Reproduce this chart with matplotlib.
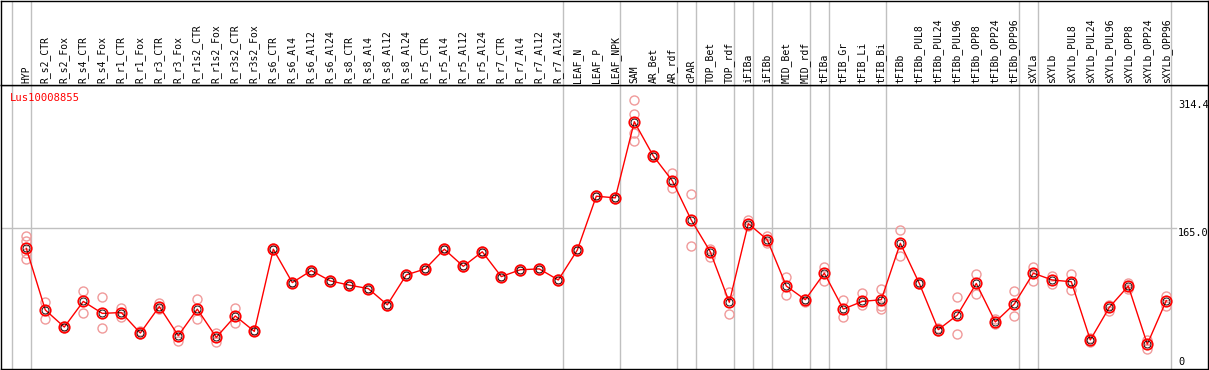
import matplotlib
matplotlib.use('Agg')
from matplotlib import pyplot as plt

# Expression profile of one gene across sample types: mean (red line) plus replicates

GENE = 'Lus10008855'

samples = ['HYP', 'R_s2_CTR', 'R_s2_Fox', 'R_s4_CTR', 'R_s4_Fox', 'R_r1_CTR', 'R_r1_Fox',
	'R_r3_CTR', 'R_r3_Fox', 'R_r1s2_CTR', 'R_r1s2_Fox', 'R_r3s2_CTR', 'R_r3s2_Fox',
	'R_s6_CTR', 'R_s6_Al4', 'R_s6_Al12', 'R_s6_Al24', 'R_s8_CTR', 'R_s8_Al4', 'R_s8_Al12',
	'R_s8_Al24', 'R_r5_CTR', 'R_r5_Al4', 'R_r5_Al12', 'R_r5_Al24', 'R_r7_CTR', 'R_r7_Al4',
	'R_r7_Al12', 'R_r7_Al24', 'LEAF_N', 'LEAF_P', 'LEAF_NPK', 'SAM', 'AR_Bet', 'AR_rdf',
	'cPAR', 'TOP_Bet', 'TOP_rdf', 'iFIBa', 'iFIBb', 'MID_Bet', 'MID_rdf', 'tFIBa', 'tFIB_Gr',
	'tFIB_Li', 'tFIB_Bi', 'tFIBb', 'tFIBb_PUL8', 'tFIBb_PUL24', 'tFIBb_PUL96', 'tFIBb_OPP8',
	'tFIBb_OPP24', 'tFIBb_OPP96', 'sXYLa', 'sXYLb', 'sXYLb_PUL8', 'sXYLb_PUL24',
	'sXYLb_PUL96', 'sXYLb_OPP8', 'sXYLb_OPP24', 'sXYLb_OPP96']

means = [141, 69, 49, 79, 65, 66, 42, 73, 39, 70, 37, 62, 44,
	140, 101, 115, 103, 98, 94, 75, 110, 117, 140, 120, 137, 108, 116, 117, 104,
	139, 202, 200, 289, 249, 220, 174, 137, 78, 170, 151, 97, 81,
	112, 70, 79, 81, 147, 100, 46, 63, 100, 55, 76,
	112, 104, 102, 34, 72, 97, 29, 80]

replicates = [[155, 150, 135, 129], [78, 59], [50, 48], [91, 66], [84, 48], [71, 61], [44, 41],
	[77, 70], [45, 33], [82, 58], [42, 32], [71, 54], [45, 44],
	[141, 139], [102, 100], [116, 114], [104, 102], [99, 97], [95, 93], [76, 74], [111, 109],
	[118, 116], [141, 139], [121, 119], [138, 136], [109, 107], [117, 115], [118, 116], [105, 103],
	[140, 138], [203, 201], [201, 199], [314.4, 298, 276, 267], [250, 248], [229, 211],
	[204, 144], [140, 131], [90, 64], [174, 167], [156, 147], [107, 86], [82, 78],
	[119, 103], [81, 61], [89, 75], [94, 74, 70], [162, 132], [101, 99], [48, 44],
	[84, 41], [111, 88], [59, 53], [91, 62],
	[119, 103], [109, 99], [111, 92], [36, 32], [75, 68], [100, 94], [34, 23], [85, 74]]

# group separators sit just after these columns
separators = [-1, 0, 28, 31, 34, 35, 37, 38, 39, 41, 42, 45, 52, 53, 60]

YMAX = 314.4
YMID = 165.0

W, H = 1209, 370
fig = plt.figure(figsize=(W / 100, H / 100), dpi=100)
plt.rcParams['font.family'] = ['DejaVu Sans Mono']

# pixel layout: header 0-85, plot 85-369, column i at 26.3 + 19*i
x0, step = 26.3, 19.0
left_px, right_px = 1.0, 1208.0
xlim = ((left_px - x0) / step, (right_px - x0) / step)

ax = fig.add_axes([left_px / W, 1 / H, (right_px - left_px) / W, 284 / H])
hd = fig.add_axes([left_px / W, 285 / H, (right_px - left_px) / W, 84.5 / H])

for a in (ax, hd):
	a.set_xlim(*xlim)
	a.set_xticks([])
	a.set_yticks([])
	for s in a.spines.values():
		s.set_color('black')
		s.set_linewidth(1.0)
	for sep in separators:
		a.axvline(sep + 0.23, color='#c0c0c0', lw=1.0, zorder=0)

hd.set_ylim(0, 85)
for i, name in enumerate(samples):
	hd.text(i, 2, name, rotation=90, ha='center', va='bottom', fontsize=7, color='black')

# data scale: 0 at bottom, 314.4 about 15 px below the header line
ax.set_ylim(0, YMAX * 284 / 269)

ax.plot([xlim[0], (1176 - x0) / step], [YMID, YMID], color='#c0c0c0', lw=1.0, zorder=0)

xs = list(range(len(samples)))
for i, reps in enumerate(replicates):
	ax.plot([i] * len(reps), reps, 'o', ms=6.5, mfc='none', mec='#f09a9a', mew=1.0, zorder=2)

ax.plot(xs, means, color='red', lw=1.0, zorder=3)
ax.plot(xs, means, 'o', ms=7.5, mfc='none', mec='red', mew=1.3, zorder=4)
ax.plot(xs, means, 'o', ms=5, mfc='none', mec='black', mew=0.6, zorder=4)

ax.text(0.007, 0.972, GENE, transform=ax.transAxes, color='red', fontsize=7.6,
	ha='left', va='top')

lab_x = (1178 - x0) / step
ax.text(lab_x, YMAX, '%.1f' % YMAX, fontsize=7.4, ha='left', va='top')
ax.text(lab_x, YMID, '%.1f' % YMID, fontsize=7.4, ha='left', va='top')
ax.text(lab_x, 2, '0', fontsize=7.4, ha='left', va='bottom')

fig.savefig('out.png', dpi=100)
